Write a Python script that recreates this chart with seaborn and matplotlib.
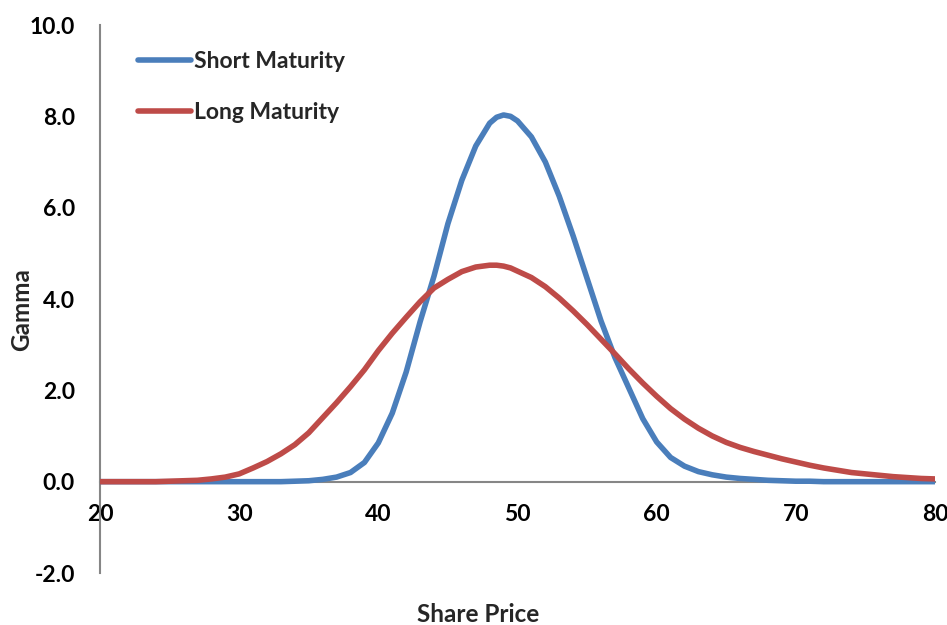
import numpy as np
import pandas as pd
import matplotlib
matplotlib.use("Agg")
import matplotlib.pyplot as plt
import seaborn as sns
from matplotlib.lines import Line2D

share_price = ([20, 21, 22, 23, 24, 25, 26, 27, 28, 29,
                30, 31, 32, 33, 34, 35, 36, 37, 38, 39,
                40, 41, 42, 43, 44, 45, 46, 47, 48, 48.5, 49, 49.5,
                50, 51, 52, 53, 54, 55, 56, 57, 58, 59,
                60, 61, 62, 63, 64, 65, 66, 67, 68, 69,
                70, 71, 72, 73, 74, 75, 76, 77, 78, 79, 80])
short_maturity = [0, 0, 0, 0, 0, 0, 0, 0, 0, 0,
                  0, 0, 0, 0, 0.01, 0.02, 0.05, 0.1, 0.2, 0.42,
                  0.85, 1.50, 2.40, 3.50, 4.50, 5.65, 6.60, 7.35, 7.85, 7.98, 8.03, 8.00,
                  7.90, 7.55, 7.00, 6.25, 5.38, 4.45, 3.52, 2.72, 2.05, 1.38,
                  0.87, 0.53, 0.34, 0.22, 0.15, 0.10, 0.07, 0.05, 0.03, 0.02,
                  0.01, 0.01, 0, 0, 0, 0, 0, 0, 0, 0, 0]
long_maturity = [0, 0, 0, 0, 0, 0.01, 0.02, 0.03, 0.06, 0.10,
                 0.17, 0.30, 0.44, 0.61, 0.81, 1.07, 1.40, 1.73, 2.08, 2.45,
                 2.87, 3.25, 3.60, 3.94, 4.24, 4.43, 4.60, 4.70, 4.74, 4.74, 4.72, 4.68,
                 4.61, 4.47, 4.27, 4.02, 3.74, 3.44, 3.12, 2.80, 2.47, 2.16,
                 1.87, 1.60, 1.37, 1.17, 1.00, 0.86, 0.75, 0.66, 0.58, 0.50,
                 0.43, 0.36, 0.30, 0.25, 0.20, 0.17, 0.14, 0.11, 0.09, 0.07, 0.06]
series_names = ["Short Maturity", "Long Maturity"]
colors = ["#4A7EBB", "#BE4B48"]
x_ticks = [20, 30, 40, 50, 60, 70, 80]
y_ticks = [-2, 0, 2, 4, 6, 8, 10]

df = pd.concat([
    pd.DataFrame({"price": share_price, "gamma": short_maturity, "series": series_names[0]}),
    pd.DataFrame({"price": share_price, "gamma": long_maturity, "series": series_names[1]}),
])

sns.set_theme(style="white")
plt.rcParams["font.family"] = ["Lato", "DejaVu Sans"]

fig, ax = plt.subplots(figsize=(9.47, 6.25), dpi=100)
fig.subplots_adjust(left=100/947, right=935/947, top=1-25/625, bottom=1-573/625)

sns.lineplot(data=df, x="price", y="gamma", hue="series", hue_order=series_names,
             palette=colors, linewidth=4, ax=ax, legend=False, sort=True)
for ln in ax.get_lines():
    ln.set_solid_capstyle("round")
    ln.set_solid_joinstyle("round")

ax.set_xlim(20, 80)
ax.set_ylim(-2, 10)
ax.set_xticks(x_ticks)
ax.set_yticks(y_ticks)
ax.set_yticklabels([f"{v:.1f}" for v in y_ticks])
ax.set_xticklabels([str(v) for v in x_ticks])

for s in ["top", "right"]:
    ax.spines[s].set_visible(False)
ax.spines["bottom"].set_position(("data", 0))
ax.spines["left"].set_position(("data", 20))
for s in ["bottom", "left"]:
    ax.spines[s].set_color("#868686")
    ax.spines[s].set_linewidth(1.5)
    ax.spines[s].set_zorder(1)

ax.tick_params(axis="both", direction="in", length=7, width=1.5, color="#868686",
               labelsize=16.5, labelcolor="black")
ax.tick_params(axis="x", pad=16)
ax.tick_params(axis="y", pad=18)
for lab in ax.get_xticklabels() + ax.get_yticklabels():
    lab.set_fontweight("bold")

ax.set_xlabel("")
ax.set_ylabel("")
fig.text(478/947, 1-615/625, "Share Price", ha="center", va="center", fontsize=17.5, fontweight="bold")
fig.text(22/947, 1-310/625, "Gamma", ha="center", va="center", rotation=90, fontsize=17.5, fontweight="bold")

handles = [Line2D([0], [0], color=c, lw=4, solid_capstyle="round") for c in colors]
leg = ax.legend(handles, series_names, loc="upper left", bbox_to_anchor=(138/947, 1-51/625),
                bbox_transform=fig.transFigure, frameon=False, fontsize=16.5,
                handlelength=2.3, handletextpad=0.15, labelspacing=1.3, borderpad=0,
                borderaxespad=0)
for t in leg.get_texts():
    t.set_fontweight("bold")

fig.savefig("out.png", dpi=100)
